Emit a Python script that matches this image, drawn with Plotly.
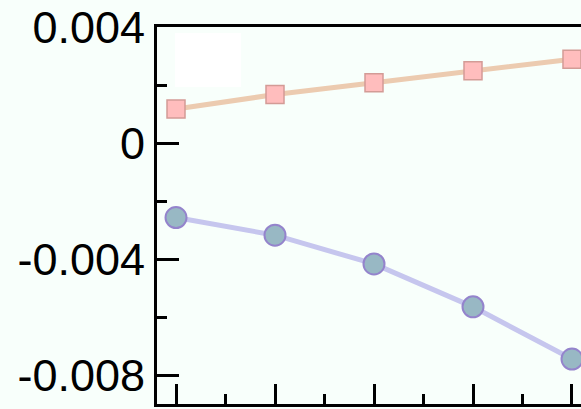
import plotly.graph_objects as go

x_vals = [1, 2, 3, 4, 5]
series_a = [0.00117, 0.00167, 0.00208, 0.00249, 0.00289]
series_b = [-0.00257, -0.00318, -0.00417, -0.00565, -0.00745]
y_tickvals = [0.004, 0, -0.004, -0.008]
y_ticktext = ["0.004", "0", "-0.004", "-0.008"]

W, H = 581, 409
L, R, T, B = 157, 0, 27, 5
BG = "#f8fffb"

fig = go.Figure()
fig.add_trace(go.Scatter(
    x=x_vals, y=series_a, mode="lines+markers",
    line=dict(color="#eccbb0", width=5),
    marker=dict(symbol="square", size=18, color="#ffbdbd",
                line=dict(color="#d39b96", width=1.5)),
    cliponaxis=False, showlegend=False))
fig.add_trace(go.Scatter(
    x=x_vals, y=series_b, mode="lines+markers",
    line=dict(color="#c6c6ee", width=5),
    marker=dict(symbol="circle", size=21, color="#98b8c4",
                line=dict(color="#9484cc", width=2)),
    cliponaxis=False, showlegend=False))

pw, ph = W - L - R, H - T - B
# empty white legend box
bx0, bx1, by0, by1 = 175, 241, 33, 87
fig.add_shape(type="rect", xref="paper", yref="paper",
              x0=(bx0 - L) / pw, x1=(bx1 - L) / pw,
              y0=(H - B - by1) / ph, y1=(H - B - by0) / ph,
              fillcolor="white", line=dict(width=0), layer="below")

fig.update_layout(
    width=W, height=H,
    margin=dict(l=L, r=R, t=T, b=B, pad=0),
    paper_bgcolor=BG, plot_bgcolor=BG,
    font=dict(family="Liberation Sans, Arial", size=45, color="black"),
    xaxis=dict(range=[0.808, 5.091], showgrid=False, zeroline=False,
               showline=True, linecolor="black", linewidth=3, mirror=True,
               ticks="inside", ticklen=20, tickwidth=3, tickcolor="black",
               tickmode="array", tickvals=x_vals, showticklabels=False,
               minor=dict(ticks="inside", ticklen=10, tickwidth=3,
                          tickcolor="black", dtick=0.5, tick0=0.5)),
    yaxis=dict(range=[-0.009, 0.004], showgrid=False, zeroline=False,
               showline=True, linecolor="black", linewidth=3,
               ticks="inside", ticklen=22, tickwidth=3, tickcolor="black",
               tickmode="array", tickvals=y_tickvals, ticktext=y_ticktext,
               minor=dict(ticks="inside", ticklen=10, tickwidth=3,
                          tickcolor="black", dtick=0.002, tick0=0)),
)
fig.write_html("out.html")
